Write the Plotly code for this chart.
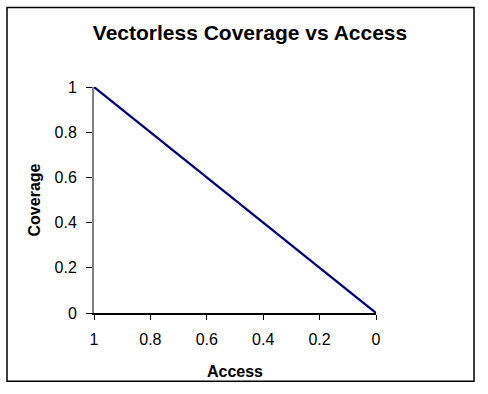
import plotly.graph_objects as go

access = [1.0, 0.9, 0.8, 0.7, 0.6, 0.5, 0.4, 0.3, 0.2, 0.1, 0.0]
coverage = [1.0, 0.9, 0.8, 0.7, 0.6, 0.5, 0.4, 0.3, 0.2, 0.1, 0.0]
tick_vals = [0, 0.2, 0.4, 0.6, 0.8, 1]
tick_text = ["0", "0.2", "0.4", "0.6", "0.8", "1"]

W, H = 488, 394
L, R, T, B = 94, 376, 86.5, 312.7
pw, ph = R - L, B - T

fig = go.Figure()
fig.add_trace(go.Scatter(x=access, y=coverage, mode="lines",
                         line=dict(color="#000080", width=2.2), showlegend=False))

FAM = "Liberation Sans, Arial, sans-serif"
tfont = dict(family=FAM, size=16, color="black")

fig.update_layout(
    width=W, height=H,
    margin=dict(l=L, r=W - R, t=T, b=H - B, pad=0),
    paper_bgcolor="white", plot_bgcolor="white",
    font=tfont,
    title=dict(text="<b>Vectorless Coverage vs Access</b>", x=250 / W, xanchor="center",
               y=1 - 33 / H, yanchor="middle",
               font=dict(family=FAM, size=21, color="black")),
    xaxis=dict(range=[1, 0], autorange=False, tickvals=tick_vals, ticktext=tick_text,
               showgrid=False, zeroline=False, showline=True, linecolor="black", linewidth=1.5,
               ticks="outside", ticklen=5, tickcolor="black", tickfont=tfont,
               ticklabelstandoff=6,
               title=dict(text="<b>Access</b>", font=tfont, standoff=19)),
    yaxis=dict(range=[0, 1], autorange=False, tickvals=tick_vals, ticktext=tick_text,
               showgrid=False, zeroline=False, showline=True, linecolor="#808080", linewidth=2,
               ticks="outside", ticklen=6, tickcolor="black", tickfont=tfont,
               ticklabelstandoff=6,
               title=dict(text="<b>Coverage</b>", font=tfont, standoff=10)),
    shapes=[dict(type="rect", xref="paper", yref="paper",
                 x0=(7 - L) / pw, x1=(474 - L) / pw,
                 y0=(B - 381) / ph, y1=(B - 7) / ph,
                 line=dict(color="black", width=1.5), fillcolor="rgba(0,0,0,0)", layer="below")],
)

fig.write_html("out.html", config={"displayModeBar": False},
               post_script="document.body.style.margin='0';document.body.style.overflow='hidden';")
